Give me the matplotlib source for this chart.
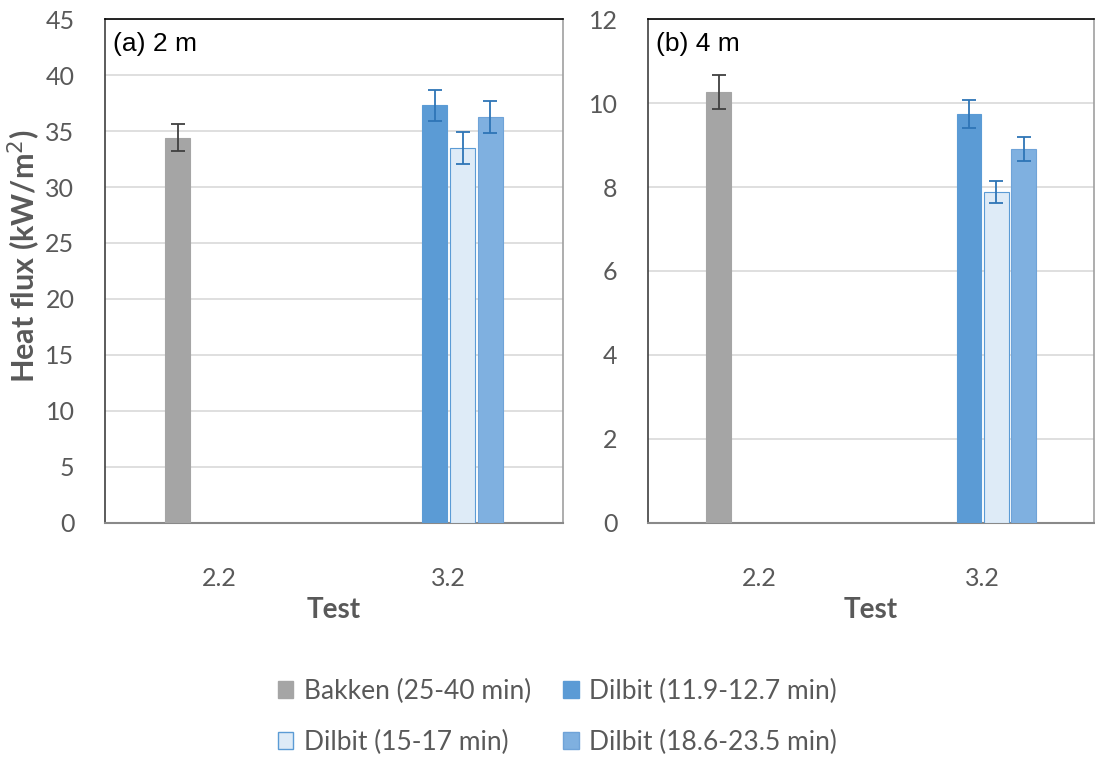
import numpy as np
import matplotlib.pyplot as plt
from matplotlib.patches import Patch

plt.rcParams['font.family'] = ['Lato', 'DejaVu Sans']

# test categories
tests = ['2.2', '3.2']

# series labels
labels = ['Bakken (25-40 min)', 'Dilbit (11.9-12.7 min)',
          'Dilbit (15-17 min)', 'Dilbit (18.6-23.5 min)']

# heat flux at 2 m (kW/m2), nan = no measurement
flux_2m = [
    [34.4, np.nan],
    [np.nan, 37.3],
    [np.nan, 33.5],
    [np.nan, 36.25],
]
err_2m = [
    [1.22, np.nan],
    [np.nan, 1.38],
    [np.nan, 1.45],
    [np.nan, 1.44],
]

# heat flux at 4 m (kW/m2)
flux_4m = [
    [10.26, np.nan],
    [np.nan, 9.73],
    [np.nan, 7.88],
    [np.nan, 8.91],
]
err_4m = [
    [0.41, np.nan],
    [np.nan, 0.33],
    [np.nan, 0.27],
    [np.nan, 0.28],
]

face = ['#A5A5A5', '#5B9BD5', '#DEEBF7', '#7FB0E0']
edge = ['#A5A5A5', '#5B9BD5', '#5B9BD5', '#6FA3D8']
ecol = ['#404040', '#2E75B6', '#2E75B6', '#2E75B6']

fig = plt.figure(figsize=(10.95, 7.61), dpi=100)
ax1 = fig.add_axes([0.0959, 0.3128, 0.4183, 0.6622])
ax2 = fig.add_axes([0.5918, 0.3128, 0.4075, 0.6622])

x = np.arange(len(tests))
slot = 0.122
width = 0.11
txtc = '#595959'


def draw(ax, vals, errs, ymax, step, tag):
    for i in range(len(labels)):
        off = (i - 1.5) * slot
        v = np.array(vals[i], dtype=float)
        e = np.array(errs[i], dtype=float)
        ok = ~np.isnan(v)
        ax.bar(x[ok] + off, v[ok], width, color=face[i], edgecolor=edge[i],
               linewidth=0.8, zorder=3)
        ax.errorbar(x[ok] + off, v[ok], yerr=e[ok], fmt='none', ecolor=ecol[i],
                    elinewidth=1.3, capsize=5, capthick=1.3, zorder=4)
    ax.set_xlim(-0.5, 1.5)
    ax.set_ylim(0, ymax)
    ax.set_yticks(np.arange(0, ymax + step / 2, step))
    ax.set_xticks(x)
    ax.set_xticklabels(tests)
    ax.yaxis.grid(True, color='#D9D9D9', linewidth=1.2, zorder=0)
    ax.set_axisbelow(True)
    ax.tick_params(axis='y', length=0, pad=22, labelsize=18, labelcolor=txtc)
    ax.tick_params(axis='x', length=0, pad=32, labelsize=18, labelcolor=txtc)
    ax.spines['top'].set_color('black')
    ax.spines['left'].set_color('#404040')
    ax.spines['right'].set_color('#A0A0A0')
    ax.spines['bottom'].set_color('#898989')
    for s in ax.spines.values():
        s.set_linewidth(1.2)
    ax.spines['bottom'].set_linewidth(1.5)
    ax.set_xlabel('Test', fontsize=20, fontweight='bold', color=txtc, labelpad=5)
    ax.text(0.018, 0.95, tag, transform=ax.transAxes, fontsize=19,
            family='Liberation Sans', va='center', ha='left', color='black')


draw(ax1, flux_2m, err_2m, 45, 5, '(a) 2 m')
draw(ax2, flux_4m, err_4m, 12, 2, '(b) 4 m')

ax1.set_ylabel('Heat flux (kW/m$^2$)', fontsize=22, fontweight='bold', color=txtc)
ax1.yaxis.set_label_coords(-0.135, 0.53)

handles = [Patch(facecolor=face[i], edgecolor=edge[i], label=labels[i]) for i in range(4)]
order = [0, 2, 1, 3]
fig.legend([handles[i] for i in order], [labels[i] for i in order],
           loc='center', bbox_to_anchor=(0.509, 0.058), ncol=2, frameon=False,
           fontsize=19, handlelength=0.6, handleheight=0.6, handletextpad=0.4,
           columnspacing=1.2, labelspacing=1.0, labelcolor=txtc)

fig.savefig('out.png', dpi=100)
